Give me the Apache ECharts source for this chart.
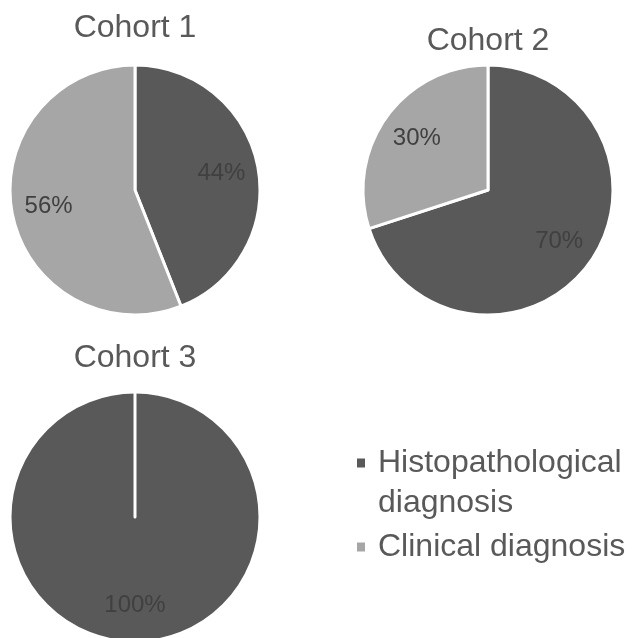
<!DOCTYPE html>
<html>
<head>
<meta charset="utf-8">
<script src="https://cdn.jsdelivr.net/npm/echarts@6/dist/echarts.min.js"></script>
<style>
  html, body { margin: 0; padding: 0; background: #ffffff; }
  #chart { width: 633px; height: 638px; }
</style>
</head>
<body>
<div id="chart"></div>
<script>
// Diagnosis type share (%) per cohort
const categories = ['Histopathological diagnosis', 'Clinical diagnosis'];
// leading blank line keeps the marker level with the first text line
const legendLabels = ['\nHistopathological\ndiagnosis', 'Clinical diagnosis'];
const cohortNames = ['Cohort 1', 'Cohort 2', 'Cohort 3'];
const cohort1 = [44, 56];
const cohort2 = [70, 30];
const cohort3 = [100, 0];

const cohortValues = [cohort1, cohort2, cohort3];
const colors = ['#595959', '#a6a6a6'];

// Layout of the three pies
const centers = [[135, 190], [488, 190], [135, 517]];
const titlePos = [[135, 12], [488, 25], [135, 342]];
const R = 125;

const chart = echarts.init(document.getElementById('chart'), null, { renderer: 'canvas' });

const series = [];
cohortValues.forEach(function (vals, i) {
  const data = categories.map(function (name, k) {
    return { name: name, value: vals[k], itemStyle: { color: colors[k] } };
  });
  // the visible pie
  series.push({
    type: 'pie',
    center: centers[i],
    radius: [0, R],
    startAngle: 90,
    clockwise: true,
    silent: true,
    animation: false,
    label: { show: false },
    labelLine: { show: false },
    itemStyle: { borderColor: '#ffffff', borderWidth: 3 },
    emphasis: { disabled: true },
    data: data
  });
  // transparent ring carrying the percentage labels further out from the centre
  series.push({
    type: 'pie',
    center: centers[i],
    radius: [R * 0.36, R],
    startAngle: 90,
    clockwise: true,
    silent: true,
    animation: false,
    legendHoverLink: false,
    itemStyle: { color: 'rgba(0,0,0,0)', borderWidth: 0 },
    label: {
      show: true,
      position: 'inside',
      formatter: function (p) { return p.value > 0 ? p.value + '%' : ''; },
      color: '#404040',
      fontSize: 24,
      fontFamily: '"Liberation Sans Narrow", "Liberation Sans", Arial, sans-serif'
    },
    labelLine: { show: false },
    emphasis: { disabled: true },
    data: categories.map(function (name, k) {
      return { name: name + ' ', value: vals[k] };
    })
  });
});

const option = {
  backgroundColor: '#ffffff',
  animation: false,
  color: colors,
  title: cohortNames.map(function (t, i) {
    return {
      text: t,
      left: titlePos[i][0],
      top: titlePos[i][1],
      textAlign: 'center',
      padding: 0,
      textStyle: {
        fontFamily: '"Liberation Sans", Arial, sans-serif',
        fontSize: 32,
        fontWeight: 'normal',
        color: '#595959'
      }
    };
  }),
  legend: {
    orient: 'vertical',
    left: 357,
    top: 403,
    padding: 0,
    itemGap: 4,
    itemWidth: 8,
    itemHeight: 9,
    icon: 'rect',
    selectedMode: false,
    formatter: function (name) {
      return legendLabels[categories.indexOf(name)];
    },
    textStyle: {
      fontFamily: '"Liberation Sans", Arial, sans-serif',
      fontSize: 32,
      color: '#595959',
      lineHeight: 40,
      padding: [0, 0, 0, 8]
    },
    data: [
      { name: categories[0], itemStyle: { color: colors[0], borderWidth: 0 } },
      { name: categories[1], itemStyle: { color: colors[1], borderWidth: 0 } }
    ]
  },
  series: series
};

chart.setOption(option);
</script>
</body>
</html>
